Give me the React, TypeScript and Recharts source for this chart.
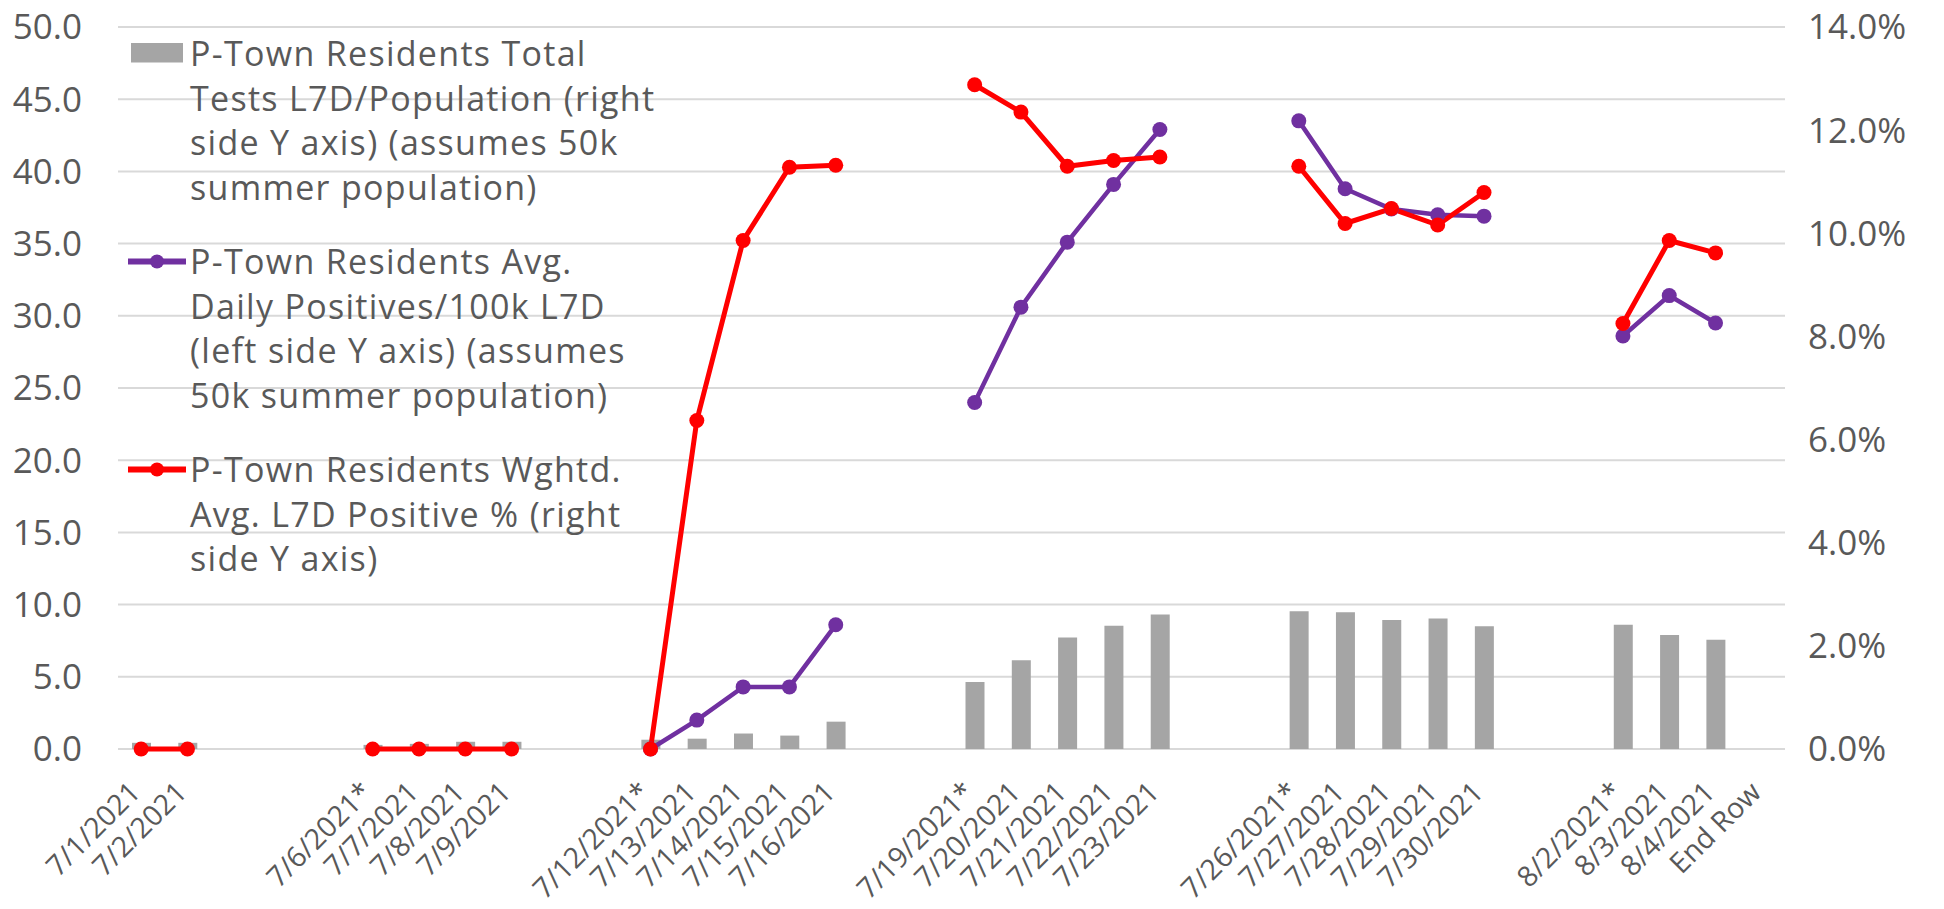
import {
  ComposedChart,
  Bar,
  Line,
  XAxis,
  YAxis,
  CartesianGrid,
  Legend,
} from 'recharts'

// x categories (blank labels are the empty rows between weeks)
const labels = [
  '7/1/2021', '7/2/2021', '', '', '',
  '7/6/2021*', '7/7/2021', '7/8/2021', '7/9/2021', '', '',
  '7/12/2021*', '7/13/2021', '7/14/2021', '7/15/2021', '7/16/2021', '', '',
  '7/19/2021*', '7/20/2021', '7/21/2021', '7/22/2021', '7/23/2021', '', '',
  '7/26/2021*', '7/27/2021', '7/28/2021', '7/29/2021', '7/30/2021', '', '',
  '8/2/2021*', '8/3/2021', '8/4/2021', 'End Row',
]

// total tests L7D / population, % (right axis)
const testsPct = [
  0.12, 0.12, null, null, null,
  0.08, 0.1, 0.14, 0.14, null, null,
  0.18, 0.2, 0.3, 0.26, 0.53, null, null,
  1.3, 1.72, 2.16, 2.39, 2.61, null, null,
  2.67, 2.65, 2.5, 2.53, 2.38, null, null,
  2.41, 2.21, 2.12, null,
]

// avg daily positives / 100k L7D (left axis)
const positivesPer100k = [
  null, null, null, null, null,
  null, null, null, null, null, null,
  0, 2.0, 4.3, 4.3, 8.6, null, null,
  24.0, 30.6, 35.1, 39.1, 42.9, null, null,
  43.5, 38.8, 37.4, 37.0, 36.9, null, null,
  28.6, 31.4, 29.5, null,
]

// weighted avg L7D positive %, (right axis)
const positivePct = [
  0, 0, null, null, null,
  0, 0, 0, 0, null, null,
  0, 6.37, 9.86, 11.28, 11.32, null, null,
  12.88, 12.35, 11.3, 11.41, 11.48, null, null,
  11.3, 10.19, 10.48, 10.16, 10.79, null, null,
  8.25, 9.86, 9.62, null,
]

const leftTicks = [0, 5, 10, 15, 20, 25, 30, 35, 40, 45, 50]
const rightTicks = [0, 2, 4, 6, 8, 10, 12, 14]

const chartData = labels.map((label, i) => ({
  label,
  tests: testsPct[i],
  positives: positivesPer100k[i],
  posPct: positivePct[i],
}))

const FONT = '"Open Sans", sans-serif'
const TEXT = '#595959'
const GRAY = '#A5A5A5'
const PURPLE = '#7030A0'
const RED = '#FF0000'

const legendItems = [
  {
    kind: 'bar',
    color: GRAY,
    lines: [
      'P-Town Residents Total',
      'Tests L7D/Population (right',
      'side Y axis) (assumes 50k',
      'summer population)',
    ],
  },
  {
    kind: 'line',
    color: PURPLE,
    lines: [
      'P-Town Residents Avg.',
      'Daily Positives/100k L7D',
      '(left side Y axis) (assumes',
      '50k summer population)',
    ],
  },
  {
    kind: 'line',
    color: RED,
    lines: [
      'P-Town Residents Wghtd.',
      'Avg. L7D Positive % (right',
      'side Y axis)',
    ],
  },
]

function renderLegend() {
  return (
    <div
      style={{
        fontFamily: FONT,
        fontSize: 34,
        letterSpacing: 1.3,
        color: TEXT,
        lineHeight: '44.5px',
        whiteSpace: 'nowrap',
      }}
    >
      {legendItems.map((item, i) => (
        <div key={i} style={{ display: 'flex', alignItems: 'flex-start', marginBottom: 30 }}>
          <svg width={58} height={44} style={{ flex: 'none' }}>
            {item.kind === 'bar' ? (
              <rect x={3} y={12} width={52} height={19.5} fill={item.color} />
            ) : (
              <g>
                <line x1={0} x2={57} y1={22.5} y2={22.5} stroke={item.color} strokeWidth={6} strokeLinecap="round" />
                <circle cx={29} cy={22.5} r={7} fill={item.color} />
              </g>
            )}
          </svg>
          <div style={{ marginLeft: 4 }}>
            {item.lines.map((l, j) => (
              <div key={j}>{l}</div>
            ))}
          </div>
        </div>
      ))}
    </div>
  )
}

// rotated category label: right end sits under the tick, top ~31px below the axis
function DateTick({ x, y, payload }: any) {
  const bx = x + 1
  const by = y + 45
  return (
    <text
      x={bx}
      y={by}
      transform={`rotate(-45 ${bx} ${by})`}
      textAnchor="end"
      fill={TEXT}
      fontSize={28.5}
      fontFamily={FONT}
    >
      {payload.value}
    </text>
  )
}

const tickStyle = { fontSize: 35, fill: TEXT, fontFamily: FONT }

export default function App() {
  return (
    <div style={{ position: 'absolute', left: 0, top: 0, width: 1944, height: 909, background: '#fff' }}>
      <ComposedChart
        width={1944}
        height={909}
        data={chartData}
        margin={{ top: 27, right: 0, bottom: 0, left: 0 }}
      >
        <CartesianGrid vertical={false} stroke="#D9D9D9" strokeWidth={2} yAxisId="left" />
        <XAxis
          dataKey="label"
          interval={0}
          height={160}
          axisLine={false}
          tickLine={false}
          tickSize={0}
          tickMargin={0}
          tick={<DateTick />}
        />
        <YAxis
          yAxisId="left"
          domain={[0, 50]}
          ticks={leftTicks}
          tickFormatter={(v) => v.toFixed(1)}
          width={118}
          axisLine={false}
          tickLine={false}
          tickSize={0}
          tickMargin={36}
          tick={tickStyle}
        />
        <YAxis
          yAxisId="right"
          orientation="right"
          domain={[0, 14]}
          ticks={rightTicks}
          tickFormatter={(v) => `${v.toFixed(1)}%`}
          width={159}
          axisLine={false}
          tickLine={false}
          tickSize={0}
          tickMargin={23}
          tick={tickStyle}
        />
        <Legend
          layout="vertical"
          align="center"
          verticalAlign="middle"
          wrapperStyle={{ left: 128, top: 31, width: 640 }}
          content={renderLegend}
        />
        <Bar yAxisId="right" dataKey="tests" fill={GRAY} barSize={19} isAnimationActive={false} />
        <Line
          yAxisId="left"
          type="linear"
          dataKey="positives"
          stroke={PURPLE}
          strokeWidth={4.5}
          dot={{ r: 7.5, fill: PURPLE, stroke: PURPLE, strokeWidth: 0 }}
          activeDot={false}
          isAnimationActive={false}
        />
        <Line
          yAxisId="right"
          type="linear"
          dataKey="posPct"
          stroke={RED}
          strokeWidth={5}
          dot={{ r: 7.5, fill: RED, stroke: RED, strokeWidth: 0 }}
          activeDot={false}
          isAnimationActive={false}
        />
      </ComposedChart>
    </div>
  )
}
